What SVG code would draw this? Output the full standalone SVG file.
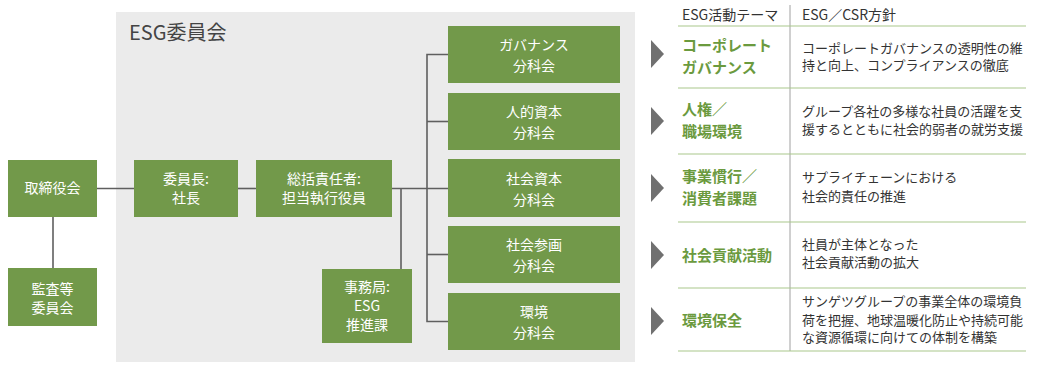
<svg xmlns="http://www.w3.org/2000/svg" width="1040" height="371" viewBox="0 0 1040 371">
<style>
text{font-family:"Noto Sans CJK JP","Noto Sans",sans-serif;}
.box{fill:#72994a;}
.bt{fill:#ffffff;font-size:14px;text-anchor:middle;}
.conn{stroke:#5f5f5f;stroke-width:1.6;fill:none;}
.gl{stroke:#a9c78c;stroke-width:1.2;}
.th{fill:#6b9a3e;font-size:15px;font-weight:bold;}
.ds{fill:#333333;font-size:13px;}
.hd{fill:#333333;font-size:14px;}
.tri{fill:#707070;}
</style>
<rect x="0" y="0" width="1040" height="371" fill="#ffffff"/>
<g id="committee-bg">
<rect x="116" y="12" width="519" height="350" fill="#ebebeb"/>
<text x="129" y="40" font-size="20" fill="#444444">ESG委員会</text>
</g>
<g id="connectors">
<line class="conn" x1="97" y1="188.5" x2="134" y2="188.5"/>
<line class="conn" x1="238" y1="188.5" x2="256" y2="188.5"/>
<line class="conn" x1="392" y1="188.5" x2="448" y2="188.5"/>
<line class="conn" x1="53" y1="217" x2="53" y2="268"/>
<line class="conn" x1="401" y1="188.5" x2="401" y2="269"/>
<polyline class="conn" points="448,54.5 427,54.5 427,321.5 448,321.5"/>
<line class="conn" x1="427" y1="121.5" x2="448" y2="121.5"/>
<line class="conn" x1="427" y1="254.5" x2="448" y2="254.5"/>
</g>
<g id="board">
<rect class="box" x="8" y="160" width="89" height="57"/>
<text class="bt" x="52.5" y="193">取締役会</text>
</g>
<g id="audit">
<rect class="box" x="8" y="268" width="89" height="58"/>
<text class="bt" x="52.5" y="294">監査等</text>
<text class="bt" x="52.5" y="313">委員会</text>
</g>
<g id="chair">
<rect class="box" x="134" y="160" width="104" height="57"/>
<text class="bt" x="186" y="184">委員長:</text>
<text class="bt" x="186" y="203">社長</text>
</g>
<g id="officer">
<rect class="box" x="256" y="160" width="136" height="57"/>
<text class="bt" x="324" y="184">総括責任者:</text>
<text class="bt" x="324" y="203">担当執行役員</text>
</g>
<g id="secretariat">
<rect class="box" x="322" y="269" width="90" height="74"/>
<text class="bt" x="367" y="292">事務局:</text>
<text class="bt" x="367" y="311">ESG</text>
<text class="bt" x="367" y="330">推進課</text>
</g>
<g id="sub-governance">
<rect class="box" x="448" y="26" width="172" height="57"/>
<text class="bt" x="534" y="50">ガバナンス</text>
<text class="bt" x="534" y="71">分科会</text>
</g>
<g id="sub-human">
<rect class="box" x="448" y="93" width="172" height="57"/>
<text class="bt" x="534" y="117">人的資本</text>
<text class="bt" x="534" y="138">分科会</text>
</g>
<g id="sub-social">
<rect class="box" x="448" y="159" width="172" height="58"/>
<text class="bt" x="534" y="184">社会資本</text>
<text class="bt" x="534" y="205">分科会</text>
</g>
<g id="sub-community">
<rect class="box" x="448" y="226" width="172" height="57"/>
<text class="bt" x="534" y="250">社会参画</text>
<text class="bt" x="534" y="271">分科会</text>
</g>
<g id="sub-environment">
<rect class="box" x="448" y="293" width="172" height="57"/>
<text class="bt" x="534" y="317">環境</text>
<text class="bt" x="534" y="338">分科会</text>
</g>
<g id="table">
<line x1="790" y1="5" x2="790" y2="351" stroke="#a0a0a0" stroke-width="1"/>
<text class="hd" x="682" y="20">ESG活動テーマ</text>
<text class="hd" x="802" y="20">ESG／CSR方針</text>
<line class="gl" x1="678" y1="26" x2="1026" y2="26"/>
<line class="gl" x1="678" y1="88" x2="1026" y2="88"/>
<line class="gl" x1="678" y1="154" x2="1026" y2="154"/>
<line class="gl" x1="678" y1="222" x2="1026" y2="222"/>
<line class="gl" x1="678" y1="288" x2="1026" y2="288"/>
<line class="gl" x1="678" y1="351" x2="1026" y2="351"/>
</g>
<g id="row-governance">
<polygon class="tri" points="651,40 664,54 651,68"/>
<text class="th" x="682" y="51">コーポレート</text>
<text class="th" x="682" y="73">ガバナンス</text>
<text class="ds" x="802" y="53">コーポレートガバナンスの透明性の維</text>
<text class="ds" x="802" y="70">持と向上、コンプライアンスの徹底</text>
</g>
<g id="row-human">
<polygon class="tri" points="651,107 664,121 651,135"/>
<text class="th" x="682" y="115">人権／</text>
<text class="th" x="682" y="137">職場環境</text>
<text class="ds" x="802" y="116">グループ各社の多様な社員の活躍を支</text>
<text class="ds" x="802" y="134">援するとともに社会的弱者の就労支援</text>
</g>
<g id="row-business">
<polygon class="tri" points="651,174 664,188 651,202"/>
<text class="th" x="682" y="182">事業慣行／</text>
<text class="th" x="682" y="204">消費者課題</text>
<text class="ds" x="802" y="182">サプライチェーンにおける</text>
<text class="ds" x="802" y="201">社会的責任の推進</text>
</g>
<g id="row-community">
<polygon class="tri" points="651,241 664,255 651,269"/>
<text class="th" x="682" y="261">社会貢献活動</text>
<text class="ds" x="802" y="249">社員が主体となった</text>
<text class="ds" x="802" y="267">社会貢献活動の拡大</text>
</g>
<g id="row-environment">
<polygon class="tri" points="651,307 664,321 651,335"/>
<text class="th" x="682" y="326">環境保全</text>
<text class="ds" x="802" y="306">サンゲツグループの事業全体の環境負</text>
<text class="ds" x="802" y="325">荷を把握、地球温暖化防止や持続可能</text>
<text class="ds" x="802" y="342">な資源循環に向けての体制を構築</text>
</g>
</svg>
